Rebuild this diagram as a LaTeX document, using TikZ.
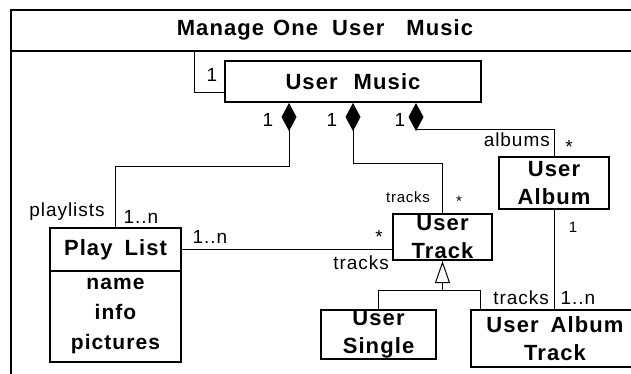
\documentclass[tikz,border=0pt]{standalone}
\usepackage{fontspec}
\setmainfont{Liberation Sans}[LetterSpace=5]
\usetikzlibrary{arrows.meta}

\tikzset{
  klass/.style={draw, line width=2pt, align=center, inner sep=0pt,
    font=\bfseries\fontsize{22}{28}\selectfont},
  role/.style={inner sep=0pt, font=\fontsize{19}{20}\selectfont},
  small/.style={inner sep=0pt, font=\fontsize{15}{16}\selectfont},
  link/.style={line width=1pt},
  comp/.style={link, {Diamond[length=28pt,width=15pt]}-},
  gen/.style={link, {Triangle[open,length=22pt,width=15pt]}-}
}

\begin{document}
\begin{tikzpicture}[x=1pt, y=-1pt]
  \fill[white] (0,0) rectangle (631,374);
  \useasboundingbox (0,0) rectangle (631,374);
  \clip (0,0) rectangle (631,374);
  \draw[line width=2pt] (11,10) rectangle (660,400);
  \draw[line width=2pt] (11,51) -- (660,51);
  \node[inner sep=0pt, font=\bfseries\fontsize{22}{24}\selectfont] (title) at (325,30) {Manage\hspace{9pt}One\hspace{14pt}User\hspace{22pt}Music};
  \coordinate (tb) at (194,51);

  \node[klass, minimum width=256pt, minimum height=41pt] (um) at (353,81.5) {User\hspace{16pt}Music};
  \node[klass, minimum width=131pt, minimum height=43pt] (plh) at (115.5,249.5) {Play\hspace{12pt}List};
  \node[klass, minimum width=131pt, minimum height=91pt, font=\bfseries\fontsize{21}{30}\selectfont] (pla) at (115.5,316.5) {name\\info\\pictures};
  \node[klass, minimum width=99pt, minimum height=46pt] (ut) at (442.5,237) {User\\Track};
  \node[klass, minimum width=110pt, minimum height=52pt] (ua) at (554,183) {User\\Album};
  \node[klass, minimum width=115pt, minimum height=49pt] (us) at (378.5,334.5) {User\\Single};
  \node[klass, minimum width=168pt, minimum height=57pt] (uat) at (555,338.5) {User\hspace{12pt}Album\\Track};

  \draw[link] (tb) |- ([yshift=10pt]um.south west);
  \draw[comp] ([xshift=-64pt]um.south) -- ++(0,64) -| (plh.north);
  \draw[comp] (um.south) -- ++(0,61) -| (ut.north);
  \draw[comp] ([xshift=63pt]um.south) -- ++(0,27) -| (ua.north);
  \draw[link] (plh.east) -- (plh.east -| ut.west);
  \draw[gen] (ut.south) -- ++(0,29) coordinate (gj);
  \draw[link] (gj) -| (us.north);
  \draw[link] (gj) -| ([xshift=10pt]uat.north west);
  \draw[link] (ua.south) -- (ua.south |- uat.north);

  \node[role] (m0) at (212,75) {1};
  \node[role] (m1) at (268,120) {1};
  \node[role] (m2) at (332,120) {1};
  \node[role] (m3) at (400,120) {1};
  \node[role, anchor=east] (r3) at (550,140) {albums};
  \node[role] (s3) at (569,147) {*};
  \node[small] (r2) at (408,197) {tracks};
  \node[small] (s2) at (459,201) {*};
  \node[role] (r1) at (67,212) {playlists};
  \node[role] (s1) at (141,217) {1..n};
  \node[role] (s4) at (210,237) {1..n};
  \node[role] (s5) at (379,237) {*};
  \node[role, anchor=east] (r5) at (389,263) {tracks};
  \node[small] (s6) at (573,227) {1};
  \node[role, anchor=east] (r6) at (549,298) {tracks};
  \node[role] (s7) at (578,298) {1..n};
\end{tikzpicture}
\end{document}
